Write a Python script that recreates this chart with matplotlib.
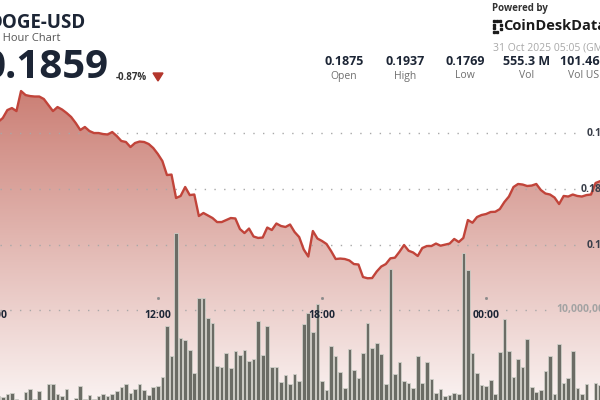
import numpy as np
import pandas as pd
import matplotlib
matplotlib.use('Agg')
import matplotlib.pyplot as plt
import matplotlib.dates as mdates
from matplotlib.patches import Polygon, Rectangle
from matplotlib import transforms

plt.rcParams['font.family'] = ['Open Sans', 'DejaVu Sans']

# 10 minute candles, 30 Oct 06:10 -> 31 Oct 04:10
times = pd.date_range('2025-10-30 06:10', periods=133, freq='10min')

price = [
    0.1910, 0.19134, 0.19205, 0.19223, 0.19196, 0.19375, 0.19339, 0.19330, 0.19326, 0.19326,
    0.19304, 0.19250, 0.19196, 0.19232, 0.19210, 0.19179, 0.19143, 0.19089, 0.19027, 0.19054,
    0.19018, 0.19000, 0.19000, 0.18991, 0.18987, 0.19009, 0.18973, 0.18929, 0.18920, 0.18875,
    0.18911, 0.18924, 0.18920, 0.18902, 0.18866, 0.18813, 0.18750, 0.18625, 0.18629, 0.18420,
    0.18438, 0.18518, 0.18446, 0.18451, 0.18259, 0.18286, 0.18263, 0.18241, 0.18205, 0.18205,
    0.18223, 0.18241, 0.18237, 0.18143, 0.18107, 0.18147, 0.18076, 0.18063, 0.18067, 0.18156,
    0.18134, 0.18192, 0.18170, 0.18161, 0.18183, 0.18116, 0.18071, 0.17960, 0.17897, 0.18125,
    0.18058, 0.18036, 0.18009, 0.17946, 0.17875, 0.17879, 0.17875, 0.17862, 0.17830, 0.17826,
    0.17714, 0.17703, 0.17705, 0.17763, 0.17808, 0.17830, 0.17881, 0.17887, 0.17940, 0.18000,
    0.17949, 0.17933, 0.17902, 0.17973, 0.17991, 0.17991, 0.18013, 0.17994, 0.18004, 0.18013,
    0.18054, 0.18027, 0.18063, 0.18223, 0.18199, 0.18250, 0.18268, 0.18277, 0.18295, 0.18297,
    0.18321, 0.18384, 0.18433, 0.18518, 0.18545, 0.18540, 0.18527, 0.18531, 0.18545, 0.18491,
    0.18460, 0.18451, 0.18424, 0.18366, 0.18438, 0.18433, 0.18451, 0.18438, 0.18433, 0.18446,
    0.18451, 0.18554, 0.18570,
]

# volume per candle, millions of DOGE
volume_m = [
    0.75, 0.68, 0.97, 1.04, 0.43, 0.22, 1.22, 1.47, 0.43, 1.29,
    0.32, 2.04, 2.01, 0.97, 0.78, 1.47, 0.32, 0.54, 1.83, 0.46,
    0.86, 0.40, 0.75, 0.94, 0.75, 1.00, 1.29, 1.69, 2.01, 1.04,
    1.47, 2.01, 1.40, 0.86, 1.72, 1.83, 2.80, 8.28, 5.00, 18.28,
    6.94, 6.77, 5.70, 3.23, 11.26, 11.26, 9.11, 8.57, 4.01, 3.90,
    5.34, 3.80, 5.59, 5.16, 5.70, 4.52, 4.70, 8.82, 5.16, 8.28,
    3.90, 3.90, 2.26, 3.01, 2.04, 3.12, 2.40, 8.46, 9.71, 7.58,
    10.65, 2.37, 1.40, 6.13, 5.05, 3.37, 1.65, 5.81, 3.55, 2.72,
    5.34, 8.63, 5.88, 6.48, 5.24, 2.01, 14.38, 3.09, 4.44, 2.37,
    2.12, 1.58, 5.05, 2.12, 4.38, 2.55, 1.04, 1.47, 0.75, 0.83,
    1.11, 0.94, 16.16, 14.30, 5.34, 3.19, 1.94, 1.83, 2.47, 0.97,
    5.52, 9.03, 5.62, 2.76, 4.76, 3.84, 6.88, 1.75, 1.22, 1.40,
    3.47, 5.05, 0.94, 6.31, 2.12, 2.66, 5.59, 1.65, 0.94, 2.04,
    0.22, 2.18, 1.94,
]

tick_times = ['2025-10-30 06:00', '2025-10-30 12:00', '2025-10-30 18:00', '2025-10-31 00:00']
tick_labels = ['06:00', '12:00', '18:00', '00:00']
price_ticks = [0.190, 0.185, 0.180]
price_tick_labels = ['0.190', '0.185', '0.180']
stat_values = ['0.1875', '0.1937', '0.1769', '555.3 M', '101.46 M']
stat_names = ['Open', 'High', 'Low', 'Vol', 'Vol USD']

W, H = 600, 400
NAVY = '#1c2535'
GREY = '#6f6f6f'

fig = plt.figure(figsize=(6, 4), dpi=100)
fig.patch.set_facecolor('white')
ax = fig.add_axes([0, 0, 1, 1])
ax.set_axis_off()

x = mdates.date2num(times)
step = x[1] - x[0]
noon = mdates.date2num(pd.Timestamp('2025-10-30 12:00'))
left, right = noon - 34.61 * step, noon + 96.97 * step
p_lo, p_hi = 0.16616, 0.20188

# gradient area under the price line
top_rgb = np.array([203, 127, 117]) / 255
bot_rgb = np.array([250, 242, 241]) / 255
t = np.linspace(0, 1, 256)[:, None]
img = (top_rgb * (1 - t) + bot_rgb * t)[:, None, :]
im = ax.imshow(img, extent=[left - step, right + step, p_lo, 0.1938],
               aspect='auto', origin='upper', zorder=1)
poly = Polygon(np.vstack([np.column_stack([x, price]),
                          [[x[-1], p_lo - 0.01], [x[0], p_lo - 0.01]]]),
               closed=True, facecolor='none', edgecolor='none')
ax.add_patch(poly)
im.set_clip_path(poly)

for p in price_ticks:
    ax.axhline(p, 0, 0.96, color='#a8a8a8', lw=1, ls=(0, (1, 6)), zorder=2)
ax.plot(x, price, color='#c1443a', lw=1.7, zorder=4, solid_joinstyle='round')
ax.set_xlim(left, right)
ax.set_ylim(p_lo, p_hi)

# volume bars
ax2 = ax.twinx()
ax2.set_axis_off()
ax2.axhline(10, 0, 0.915, color='#a8a8a8', lw=1, ls=(0, (1, 6)), zorder=1)
ax2.bar(x, volume_m, width=step * 0.8, color='#6b6c65',
        edgecolor='#cfcfc8', linewidth=0.6, zorder=3)
ax2.set_ylim(0.32, 43.33)
ax2.set_xlim(left, right)

# axis labels
tr_y = transforms.blended_transform_factory(fig.transFigure, ax.transData)
for p, lab, px in zip(price_ticks, price_tick_labels, [587, 581, 587]):
    ax.text(px / W, p, lab, transform=tr_y, va='center', ha='left',
            fontsize=7.5, fontweight='bold', color='#3a3f4a', zorder=6)
tr_v = transforms.blended_transform_factory(fig.transFigure, ax2.transData)
ax2.text(556 / W, 10, '10,000,000', transform=tr_v, va='center', ha='left',
         fontsize=7.5, fontweight='bold', color='#a3a3a3', zorder=6)

tr_x = transforms.blended_transform_factory(ax.transData, fig.transFigure)
for tt, lab in zip(tick_times, tick_labels):
    tx = mdates.date2num(pd.Timestamp(tt))
    ax2.text(tx, 1 - 315 / H, lab, transform=tr_x, ha='center', va='center',
             fontsize=7.5, fontweight='bold', color=NAVY, zorder=6)
    ax2.plot([tx], [1 - 298 / H], marker='s', ms=1.0, color='#8a8a8a',
             transform=tr_x, zorder=6, clip_on=False)

# header
def ftext(px, py, s, **kw):
    fig.text(px / W, 1 - py / H, s, **kw)

ftext(-12, 23, 'DOGE-USD', fontsize=13.5, fontweight='bold', color=NAVY, va='center')
ftext(-13, 38.5, '24 Hour Chart', fontsize=8, color='#555555', va='center')
ftext(-17, 67, '0.1859', fontsize=29, fontweight='bold', color=NAVY, va='center')
ftext(116, 77.5, '-0.87%', fontsize=7, fontweight='bold', color='#333333', va='center')
fig.add_artist(Polygon([[153 / W, 1 - 73 / H], [163 / W, 1 - 73 / H], [158 / W, 1 - 81 / H]],
                       closed=True, transform=fig.transFigure, color='#b3362c'))

ftext(492, 8.5, 'Powered by', fontsize=7, fontweight='bold', color='#333333', va='center')
ftext(503, 25.5, 'CoinDeskData', fontsize=10.5, fontweight='bold', color='#1b1b1b', va='center')
for sx, sy in [(492.5, 20), (492.5, 23.5), (492.5, 27), (492.5, 30.5),
               (496, 20), (499, 20), (496, 30.5), (500.5, 24), (500.5, 28)]:
    fig.add_artist(Rectangle((sx / W, 1 - (sy + 2) / H), 2 / W, 2 / H,
                             transform=fig.transFigure, color='#1b1b1b'))
ftext(493, 47.5, '31 Oct 2025 05:05 (GMT)', fontsize=7.5, color='#a8a8a8', va='center')

for cx, val, name in zip([344, 405, 465, 527, 587], stat_values, stat_names):
    ftext(cx, 61.5, val, fontsize=9, fontweight='bold', color=NAVY, ha='center', va='center')
    ftext(cx, 76, name, fontsize=7.5, color=GREY, ha='center', va='center')

fig.savefig('out.png', dpi=100)
